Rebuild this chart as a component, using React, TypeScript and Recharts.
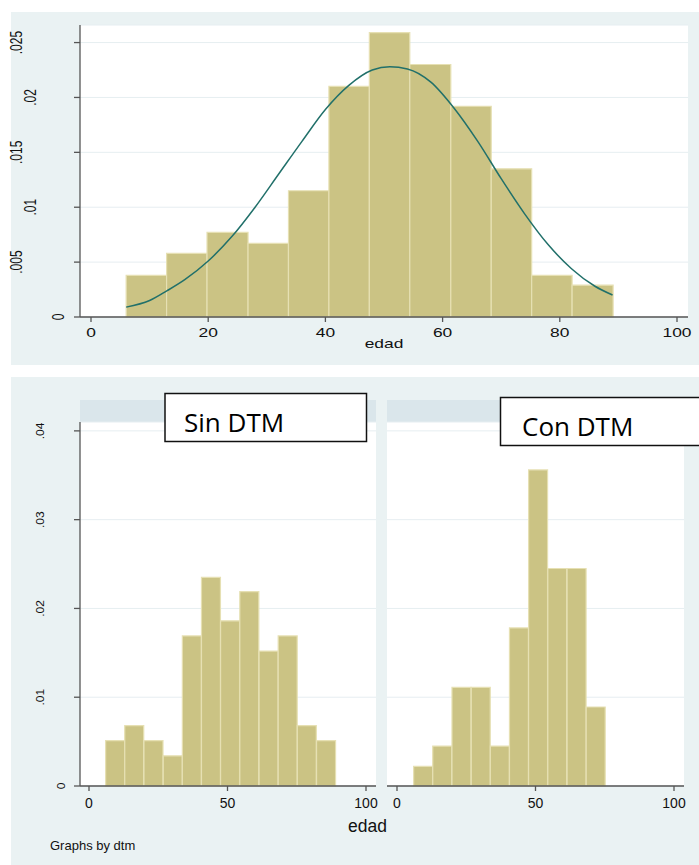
import React from "react";
import {
  ComposedChart,
  BarChart,
  Bar,
  Line,
  XAxis,
  YAxis,
  CartesianGrid,
  ReferenceArea,
} from "recharts";

// ---------- data ----------
const BIN_EDGES = [6, 12.9, 19.8, 26.8, 33.7, 40.6, 47.5, 54.4, 61.4, 68.3, 75.2, 82.1, 89.1];
const ALL_DENSITY = [0.0038, 0.0058, 0.0077, 0.0067, 0.0115, 0.021, 0.0259, 0.023, 0.0192, 0.0135, 0.0038, 0.0029];
const SIN_DENSITY = [0.0051, 0.0068, 0.0051, 0.0034, 0.0169, 0.0235, 0.0186, 0.0219, 0.0152, 0.0169, 0.0068, 0.0051];
const CON_DENSITY = [0.0022, 0.0045, 0.0111, 0.0111, 0.0045, 0.0178, 0.0356, 0.0245, 0.0245, 0.0089];

const CURVE_X = [6, 10, 13, 16, 20, 24, 28, 32, 36, 40, 44, 48, 51, 54, 58, 62, 66, 70, 74, 78, 82, 86, 89];
const CURVE_Y = [0.0009, 0.0015, 0.0024, 0.0034, 0.0051, 0.0073, 0.01, 0.013, 0.016, 0.0189, 0.0211, 0.0225, 0.0228, 0.0226, 0.0214, 0.019, 0.016, 0.0126, 0.0094, 0.0066, 0.0044, 0.0028, 0.002];

const TOP_X_TICKS = [0, 20, 40, 60, 80, 100];
const TOP_Y_TICKS = [0, 0.005, 0.01, 0.015, 0.02, 0.025];
const TOP_Y_LABELS = ["0", ".005", ".01", ".015", ".02", ".025"];
const BOT_X_TICKS = [0, 50, 100];
const BOT_Y_TICKS = [0, 0.01, 0.02, 0.03, 0.04];
const BOT_Y_LABELS = ["0", ".01", ".02", ".03", ".04"];
const PANEL_TITLES = ["Sin DTM", "Con DTM"];
const X_TITLE = "edad";
const NOTE = "Graphs by dtm";

// ---------- derived tables ----------
const makeBins = (dens: number[]) =>
  dens.map((d, i) => ({
    x0: BIN_EDGES[i],
    x1: BIN_EDGES[i + 1],
    mid: (BIN_EDGES[i] + BIN_EDGES[i + 1]) / 2,
    d,
  }));
const allBins = makeBins(ALL_DENSITY);
const sinBins = makeBins(SIN_DENSITY);
const conBins = makeBins(CON_DENSITY);
const curve = CURVE_X.map((x, i) => ({ x, y: CURVE_Y[i] }));

// ---------- styles ----------
const BG = "#EAF2F3";
const STRIP = "#DAE6EB";
const BAR_FILL = "#CBC384";
const BAR_STROKE = "#E6E0B3";
const CURVE_COLOR = "#21706A";
const AXIS = "#555555";
const GRID = "#E6EEF1";
const FONT = "'Liberation Sans', Arial, sans-serif";

const TopXTick = (props: any) => {
  const { x, y, payload } = props;
  return (
    <text
      transform={`translate(${x},${y + 13}) scale(1.45,1)`}
      textAnchor="middle"
      fontSize={12}
      fill="#111"
      fontFamily={FONT}
    >
      {payload.value}
    </text>
  );
};

const TopYTick = (props: any) => {
  const { x, y, payload, index } = props;
  const label = TOP_Y_LABELS[index] ?? String(payload.value);
  const cx = x - 14 * label.length;
  return (
    <text
      transform={`translate(${cx},${y}) scale(1.45,1) rotate(-90)`}
      textAnchor="middle"
      dy="0.35em"
      fontSize={12}
      fill="#111"
      fontFamily={FONT}
    >
      {label}
    </text>
  );
};

const BotXTick = (props: any) => {
  const { x, y, payload } = props;
  return (
    <text x={x} y={y + 15} textAnchor="middle" fontSize={14} fill="#111" fontFamily={FONT}>
      {payload.value}
    </text>
  );
};

const BotYTick = (props: any) => {
  const { x, y, payload, index } = props;
  const label = BOT_Y_LABELS[index] ?? String(payload.value);
  const cx = x - 10.5 * label.length;
  return (
    <text
      transform={`translate(${cx},${y}) scale(0.85,1) rotate(-90)`}
      textAnchor="middle"
      dy="0.35em"
      fontSize={12}
      fill="#111"
      fontFamily={FONT}
    >
      {label}
    </text>
  );
};

const TopXLabel = (props: any) => {
  const vb = props.viewBox || {};
  return (
    <text
      transform={`translate(${vb.x + vb.width / 2},${vb.y + 31}) scale(1.45,1)`}
      textAnchor="middle"
      fontSize={12}
      fill="#111"
      fontFamily={FONT}
    >
      {X_TITLE}
    </text>
  );
};

const abs = (left: number, top: number, width: number, height: number, extra: any = {}) => ({
  position: "absolute" as const,
  left,
  top,
  width,
  height,
  ...extra,
});

export default function App() {
  return (
    <div style={abs(0, 0, 699, 865, { background: "#fff", overflow: "hidden", fontFamily: FONT })}>
      {/* top panel */}
      <div style={abs(11, 12, 688, 353, { background: BG })} />
      <div style={abs(0, 12, 699, 353)}>
        <ComposedChart width={699} height={353} data={curve} margin={{ top: 13, right: 11, bottom: 0, left: 0 }}>
          <CartesianGrid vertical={false} stroke={GRID} fill="#fff" />
          <XAxis
            dataKey="x"
            type="number"
            domain={[0, 100]}
            ticks={TOP_X_TICKS}
            padding={{ left: 11, right: 11 }}
            height={48}
            stroke={AXIS}
            strokeWidth={1.3}
            tickSize={5}
            tick={<TopXTick />}
            label={<TopXLabel />}
            interval={0}
          />
          <YAxis
            type="number"
            domain={[0, 0.0266]}
            ticks={TOP_Y_TICKS}
            width={80}
            stroke={AXIS}
            strokeWidth={1.3}
            tickSize={6}
            tick={<TopYTick />}
            interval={0}
            allowDataOverflow
          />
          {allBins.map((b, i) => (
            <ReferenceArea
              key={i}
              x1={b.x0}
              x2={b.x1}
              y1={0}
              y2={b.d}
              fill={BAR_FILL}
              fillOpacity={1}
              stroke={BAR_STROKE}
              strokeWidth={1.2}
            />
          ))}
          <Line
            dataKey="y"
            type="monotone"
            stroke={CURVE_COLOR}
            strokeWidth={1.5}
            dot={false}
            activeDot={false}
            isAnimationActive={false}
          />
        </ComposedChart>
      </div>

      {/* bottom panel */}
      <div style={abs(11, 377, 688, 488, { background: BG })} />
      <div style={abs(80, 400, 296, 22, { background: STRIP })} />
      <div style={abs(387, 400, 297, 22, { background: STRIP })} />

      <div style={abs(0, 410, 396, 416)}>
        <BarChart width={396} height={416} data={sinBins} margin={{ top: 12, right: 20, bottom: 0, left: 0 }} barCategoryGap={0} barGap={0}>
          <CartesianGrid vertical={false} stroke={GRID} fill="#fff" />
          <XAxis
            dataKey="mid"
            type="number"
            domain={[0, 100]}
            ticks={BOT_X_TICKS}
            padding={{ left: 9, right: 10 }}
            height={40}
            stroke={AXIS}
            strokeWidth={1.3}
            tickSize={5}
            tick={<BotXTick />}
            interval={0}
          />
          <YAxis
            type="number"
            domain={[0, 0.041]}
            ticks={BOT_Y_TICKS}
            width={80}
            stroke={AXIS}
            strokeWidth={1.3}
            tickSize={6}
            tick={<BotYTick />}
            interval={0}
          />
          <Bar dataKey="d" fill={BAR_FILL} stroke={BAR_STROKE} strokeWidth={1.2} isAnimationActive={false} />
        </BarChart>
      </div>

      <div style={abs(387, 410, 312, 416)}>
        <BarChart width={312} height={416} data={conBins} margin={{ top: 12, right: 15, bottom: 0, left: 0 }} barCategoryGap={0} barGap={0}>
          <CartesianGrid vertical={false} stroke={GRID} fill="#fff" />
          <XAxis
            dataKey="mid"
            type="number"
            domain={[0, 100]}
            ticks={BOT_X_TICKS}
            padding={{ left: 10, right: 10 }}
            height={40}
            stroke={AXIS}
            strokeWidth={1.3}
            tickSize={5}
            tick={<BotXTick />}
            interval={0}
          />
          <YAxis type="number" domain={[0, 0.041]} ticks={BOT_Y_TICKS} hide width={0} />
          <Bar dataKey="d" fill={BAR_FILL} stroke={BAR_STROKE} strokeWidth={1.2} isAnimationActive={false} />
        </BarChart>
      </div>

      {/* overlay annotations */}
      <svg width={699} height={865} style={abs(0, 0, 699, 865, { pointerEvents: "none" })}>
        <text x={367.5} y={831.5} textAnchor="middle" fontSize={17.5} fill="#111" fontFamily={FONT}>
          {X_TITLE}
        </text>
        <text x={50} y={850} fontSize={13} fill="#111" fontFamily={FONT}>
          {NOTE}
        </text>
        <rect x={165} y={393.5} width={201.5} height={48} fill="#fff" stroke="#111" strokeWidth={1.5} />
        <text x={184} y={432} fontSize={26} fill="#000" fontFamily="'Open Sans', sans-serif">
          {PANEL_TITLES[0]}
        </text>
        <rect x={500.5} y={397.5} width={210} height={48} fill="#fff" stroke="#111" strokeWidth={1.5} />
        <text x={522} y={436} fontSize={26} fill="#000" fontFamily="'Open Sans', sans-serif">
          {PANEL_TITLES[1]}
        </text>
      </svg>
    </div>
  );
}
